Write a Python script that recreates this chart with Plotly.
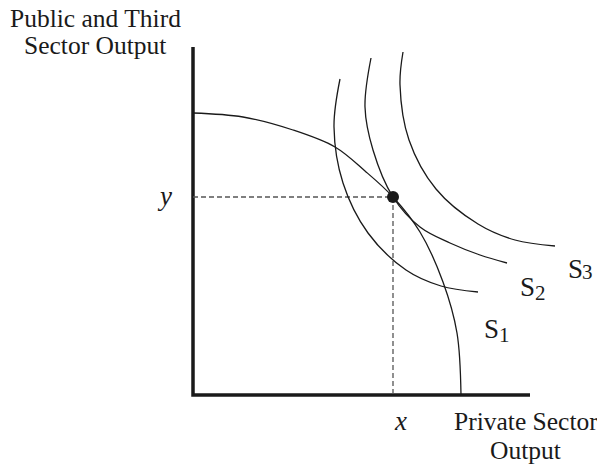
import plotly.graph_objects as go

# ---- data (diagram units: 1 unit = 10 px of the reference) ----
ppf_x = [0, 5, 10, 14.2, 17.2, 20, 22.7, 25.0, 26.4, 26.8]
ppf_y = [28.2, 27.8, 26.5, 24.8, 22.4, 19.8, 16.3, 11.3, 6.2, 0]

s1_x = [14.7, 14.1, 15.0, 17.5, 21.3, 24.8, 28.5]
s1_y = [31.6, 26.8, 21.2, 16.2, 12.5, 10.9, 10.3]

s2_x = [17.8, 17.2, 18.0, 20.0, 22.7, 25.7, 28.7, 31.4]
s2_y = [33.7, 28.8, 24.5, 19.8, 16.8, 15.2, 14.0, 13.2]

s3_x = [21.0, 20.7, 21.6, 24.3, 28.5, 32.2, 36.2]
s3_y = [34.3, 31.0, 25.5, 20.6, 17.1, 15.5, 14.9]

opt_x = 20.0
opt_y = 19.8

axis_x_max = 33.7
axis_y_max = 34.8

curve_labels = ["S", "S", "S"]
curve_subs = ["1", "2", "3"]

# The page body has an 8px default margin, so the figure is drawn 8px in
# from the window's corner; size it to fill the rest of the window.
PAGE_MARGIN = 8
WIN_W, WIN_H = 605, 466
W, H = WIN_W - PAGE_MARGIN, WIN_H - PAGE_MARGIN
OX, OY = 193 - PAGE_MARGIN, 395 - PAGE_MARGIN  # origin pixel inside figure
SCALE = 10.0

FONT = "Liberation Serif, Times New Roman, serif"
INK = "#1a1a1a"

fig = go.Figure()

# axes
fig.add_trace(go.Scatter(x=[0, 0, axis_x_max], y=[axis_y_max, 0, 0], mode="lines",
                         line=dict(color=INK, width=3.5), hoverinfo="skip", showlegend=False))

# dashed guide lines
fig.add_trace(go.Scatter(x=[0, opt_x, opt_x], y=[opt_y, opt_y, 0], mode="lines",
                         line=dict(color="#555555", width=1.3, dash="5px,3px"),
                         hoverinfo="skip", showlegend=False))

# production possibility frontier and indifference curves
for xs, ys in [(ppf_x, ppf_y), (s1_x, s1_y), (s2_x, s2_y), (s3_x, s3_y)]:
    fig.add_trace(go.Scatter(x=xs, y=ys, mode="lines",
                             line=dict(color=INK, width=1.3, shape="spline", smoothing=1.0),
                             hoverinfo="skip", showlegend=False))

# optimum point
fig.add_trace(go.Scatter(x=[opt_x], y=[opt_y], mode="markers",
                         marker=dict(color=INK, size=12), hoverinfo="skip", showlegend=False))


def ann(text, wx, wy, size, italic=False, xanchor="center"):
    """Place text at window pixel (wx, wy)."""
    px, py = wx - PAGE_MARGIN, wy - PAGE_MARGIN
    fig.add_annotation(text=f"<i>{text}</i>" if italic else text,
                       x=px / W, y=1 - py / H, xref="paper", yref="paper",
                       xanchor=xanchor, yanchor="middle", showarrow=False,
                       borderpad=0,
                       font=dict(family=FONT, size=size, color=INK))


ann("Public and Third", 95, 18, 25.5)
ann("Sector Output", 95, 46, 25.5)
ann("Private Sector", 526, 421, 25.5)
ann("Output", 525, 450, 25.5)
ann("y", 164, 196, 27, italic=True)
ann("x", 400, 421, 27, italic=True)

# S labels: letter right-anchored, subscript digit left-anchored just after it
s_pos = [(500, 329), (536, 287), (583.5, 269)]
sub_pos = [(497.5, 335), (533.5, 293), (581, 272)]
for lab, sub, (sx, sy), (bx, by) in zip(curve_labels, curve_subs, s_pos, sub_pos):
    ann(lab, sx, sy, 27, xanchor="right")
    ann(sub, bx, by, 21, xanchor="left")

fig.update_layout(
    width=W, height=H,
    margin=dict(l=0, r=0, t=0, b=0, pad=0),
    paper_bgcolor="white", plot_bgcolor="white",
    xaxis=dict(visible=False, range=[(0 - OX) / SCALE, (W - OX) / SCALE], fixedrange=True),
    yaxis=dict(visible=False, range=[(OY - H) / SCALE, OY / SCALE], fixedrange=True),
    showlegend=False,
)

fig.write_html("out.html")
